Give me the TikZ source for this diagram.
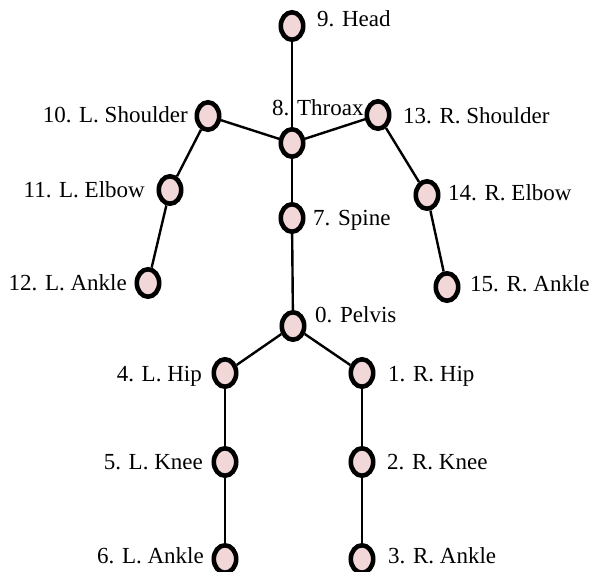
\documentclass[tikz,border=0pt]{standalone}
\usepackage{fontspec}
\setmainfont{Liberation Serif}
\usetikzlibrary{shapes.geometric}
\definecolor{jointfill}{RGB}{242,215,217}
\tikzset{
  joint/.style={ellipse, draw=black, fill=jointfill, line width=4.6pt, minimum width=22.4pt, minimum height=27.4pt, inner sep=0pt},
  bone/.style={draw=black, line width=2.4pt},
  lblr/.style={anchor=base west, inner sep=0pt, font=\fontsize{23}{27}\selectfont},
  lbll/.style={anchor=base east, inner sep=0pt, font=\fontsize{23}{27}\selectfont}
}
\begin{document}
\begin{tikzpicture}[x=1pt,y=-1pt]
\useasboundingbox (0,0) rectangle (591,571);
% joints
\node[joint] (n9) at (292,26) {};
\node[joint] (n8) at (292,143) {};
\node[joint] (n10) at (208,116) {};
\node[joint] (n13) at (378,115) {};
\node[joint] (n11) at (170,190) {};
\node[joint] (n14) at (427,195) {};
\node[joint] (n12) at (148,283) {};
\node[joint] (n15) at (447,287) {};
\node[joint] (n7) at (292,218) {};
\node[joint] (n0) at (293,326) {};
\node[joint] (n4) at (225,373) {};
\node[joint] (n1) at (362,373) {};
\node[joint] (n5) at (225,462) {};
\node[joint] (n2) at (362,462) {};
\node[joint] (n6) at (225,559) {};
\node[joint] (n3) at (362,559) {};
% bones
\draw[bone] (n9) -- (n8);
\draw[bone] (n8) -- (n10);
\draw[bone] (n8) -- (n13);
\draw[bone] (n10) -- (n11);
\draw[bone] (n11) -- (n12);
\draw[bone] (n13) -- (n14);
\draw[bone] (n14) -- (n15);
\draw[bone] (n8) -- (n7);
\draw[bone] (n7) -- (n0);
\draw[bone] (n0) -- (n4);
\draw[bone] (n0) -- (n1);
\draw[bone] (n4) -- (n5);
\draw[bone] (n5) -- (n6);
\draw[bone] (n1) -- (n2);
\draw[bone] (n2) -- (n3);
% labels
\node[lblr] (l9) at (317,26) {9. Head};
\node[lblr] (l8) at (272,115) {8. Throax};
\node[lblr] (l13) at (403,123) {13. R. Shoulder};
\node[lbll] (l10) at (188,122) {10. L. Shoulder};
\node[lbll] (l11) at (145,197) {11. L. Elbow};
\node[lblr] (l14) at (448,200) {14. R. Elbow};
\node[lbll] (l12) at (127,290) {12. L. Ankle};
\node[lblr] (l15) at (470,291) {15. R. Ankle};
\node[lblr] (l7) at (313,225) {7. Spine};
\node[lblr] (l0) at (315,322) {0. Pelvis};
\node[lbll] (l4) at (202,381) {4. L. Hip};
\node[lblr] (l1) at (388,381) {1. R. Hip};
\node[lbll] (l5) at (203,469) {5. L. Knee};
\node[lblr] (l2) at (387,469) {2. R. Knee};
\node[lbll] (l6) at (204,563) {6. L. Ankle};
\node[lblr] (l3) at (388,563) {3. R. Ankle};
\end{tikzpicture}
\end{document}
